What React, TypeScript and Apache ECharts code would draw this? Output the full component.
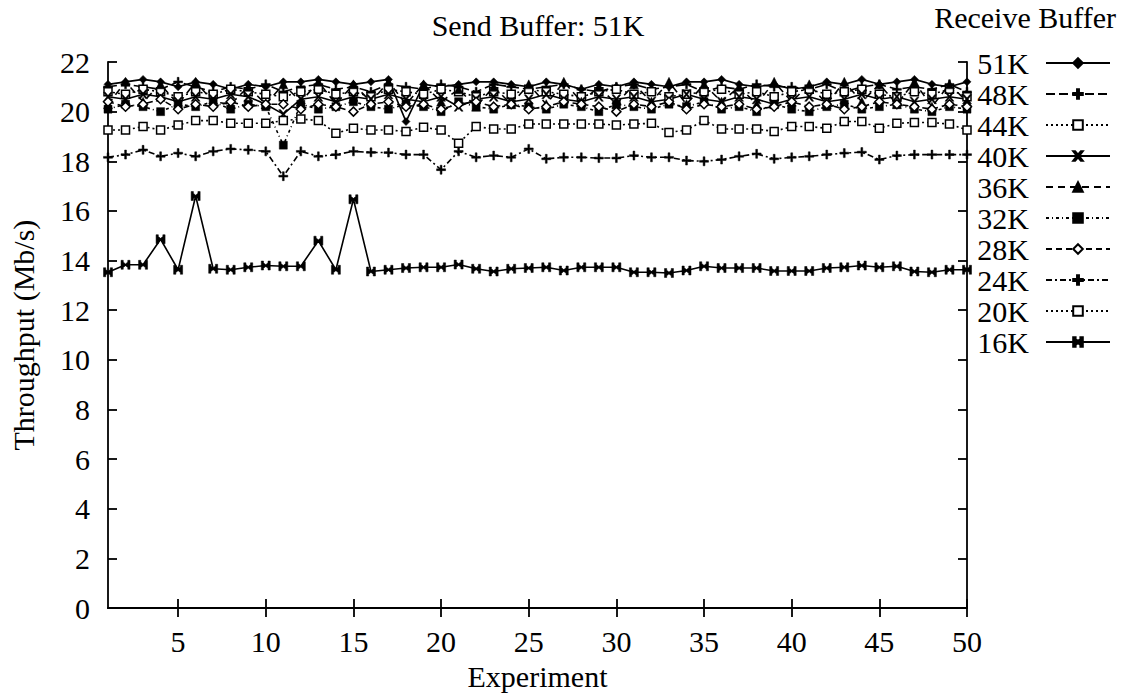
import React, { useEffect, useRef } from "react";
import * as echarts from "echarts";

const experiments = Array.from({ length: 50 }, (_, i) => i + 1);
const xTickValues = [5, 10, 15, 20, 25, 30, 35, 40, 45, 50];

const rb51 = [21.1, 21.2, 21.3, 21.2, 21.0, 21.2, 21.1, 20.9, 21.1, 21.0, 21.2, 21.2, 21.3, 21.2, 21.1, 21.2, 21.3, 19.6, 21.1, 21.0, 21.1, 21.2, 21.2, 21.1, 21.0, 21.2, 21.1, 20.9, 21.1, 21.0, 21.2, 21.1, 21.0, 21.2, 21.2, 21.3, 21.1, 21.0, 21.1, 20.9, 21.0, 21.2, 21.1, 21.3, 21.1, 21.2, 21.3, 21.1, 21.0, 21.2];
const rb48 = [21.0, 21.1, 21.0, 20.9, 21.2, 21.0, 20.8, 21.0, 20.9, 21.1, 20.8, 21.0, 21.1, 20.9, 21.0, 20.8, 21.1, 21.0, 20.9, 21.1, 21.0, 20.8, 21.1, 21.0, 20.9, 21.0, 21.1, 20.9, 20.8, 21.0, 21.1, 20.9, 21.0, 21.1, 20.8, 21.0, 20.9, 21.1, 21.0, 21.0, 20.9, 21.1, 20.8, 21.0, 21.1, 20.9, 21.0, 20.9, 21.1, 20.8];
const rb44 = [20.8, 20.7, 20.9, 20.8, 20.6, 20.8, 20.7, 20.9, 20.8, 20.7, 20.6, 20.8, 20.9, 20.7, 20.8, 20.6, 20.9, 20.8, 20.7, 20.9, 20.8, 20.6, 20.8, 20.7, 20.9, 20.8, 20.7, 20.6, 20.8, 20.9, 20.7, 20.8, 20.6, 20.7, 20.8, 20.9, 20.7, 20.8, 20.6, 20.8, 20.9, 20.7, 20.8, 20.9, 20.7, 20.6, 20.8, 20.7, 20.9, 20.6];
const rb40 = [20.6, 20.5, 20.7, 20.6, 20.4, 20.6, 20.5, 20.7, 20.6, 20.3, 19.9, 20.5, 20.6, 20.4, 20.6, 20.5, 20.7, 20.5, 20.4, 20.6, 20.2, 20.5, 20.6, 20.4, 20.5, 20.7, 20.5, 20.4, 20.6, 20.5, 20.6, 20.4, 20.5, 20.7, 20.5, 20.4, 20.6, 20.5, 20.3, 20.5, 20.6, 20.4, 20.5, 20.7, 20.5, 20.6, 20.4, 20.5, 20.6, 20.5];
const rb36 = [20.3, 21.2, 20.4, 21.1, 20.3, 21.2, 20.4, 20.3, 21.0, 20.3, 21.1, 20.4, 21.2, 20.3, 21.1, 20.4, 21.2, 20.3, 21.1, 20.4, 20.9, 20.2, 21.0, 20.3, 21.1, 20.3, 21.2, 20.4, 21.0, 20.3, 21.1, 20.4, 21.2, 20.3, 21.1, 20.4, 21.0, 20.3, 21.2, 20.4, 21.1, 20.3, 21.2, 20.4, 21.1, 20.3, 21.2, 20.2, 21.1, 20.4];
const rb32 = [20.1, 20.3, 20.2, 20.0, 20.3, 20.2, 20.4, 20.1, 20.3, 20.2, 18.65, 20.3, 20.1, 20.2, 20.4, 20.2, 20.1, 20.3, 20.2, 20.0, 20.4, 20.2, 20.1, 20.3, 20.2, 20.1, 20.3, 20.2, 20.0, 20.3, 20.2, 20.1, 20.3, 20.2, 20.4, 20.1, 20.2, 20.0, 20.3, 20.1, 20.0, 20.2, 20.3, 20.1, 20.2, 20.3, 20.1, 20.0, 20.2, 20.1];
const rb28 = [20.4, 20.2, 20.3, 20.5, 20.1, 20.3, 20.2, 20.4, 20.2, 20.3, 20.3, 20.1, 20.3, 20.2, 20.0, 20.3, 20.4, 20.2, 20.3, 20.1, 20.3, 20.4, 20.2, 20.3, 20.1, 20.2, 20.4, 20.3, 20.2, 20.0, 20.3, 20.2, 20.4, 20.1, 20.3, 20.2, 20.3, 20.1, 20.2, 20.4, 20.2, 20.3, 20.1, 20.2, 20.4, 20.3, 20.2, 20.1, 20.3, 20.2];
const rb24 = [18.16, 18.27, 18.46, 18.2, 18.33, 18.2, 18.4, 18.5, 18.46, 18.4, 17.4, 18.4, 18.2, 18.27, 18.4, 18.36, 18.35, 18.27, 18.27, 17.66, 18.4, 18.16, 18.23, 18.16, 18.5, 18.1, 18.16, 18.16, 18.13, 18.13, 18.23, 18.16, 18.16, 18.03, 18.0, 18.07, 18.2, 18.3, 18.1, 18.16, 18.2, 18.27, 18.33, 18.37, 18.07, 18.23, 18.27, 18.27, 18.27, 18.27];
const rb20 = [19.26, 19.26, 19.4, 19.26, 19.46, 19.64, 19.64, 19.53, 19.53, 19.53, 19.64, 19.7, 19.64, 19.13, 19.33, 19.26, 19.26, 19.2, 19.37, 19.26, 18.73, 19.4, 19.3, 19.3, 19.5, 19.5, 19.5, 19.5, 19.5, 19.46, 19.5, 19.53, 19.16, 19.26, 19.64, 19.3, 19.3, 19.3, 19.2, 19.4, 19.4, 19.33, 19.6, 19.6, 19.33, 19.53, 19.56, 19.56, 19.5, 19.26];
const rb16 = [13.53, 13.83, 13.83, 14.86, 13.63, 16.6, 13.67, 13.63, 13.73, 13.8, 13.77, 13.77, 14.8, 13.63, 16.47, 13.56, 13.63, 13.7, 13.73, 13.73, 13.84, 13.67, 13.56, 13.67, 13.7, 13.73, 13.6, 13.73, 13.73, 13.73, 13.53, 13.53, 13.5, 13.6, 13.77, 13.7, 13.7, 13.7, 13.58, 13.58, 13.58, 13.7, 13.73, 13.8, 13.73, 13.77, 13.56, 13.53, 13.63, 13.63];

const FONT = "'Liberation Serif', 'DejaVu Serif', serif";
const FS = 30;
const PLUS = "path://M4,0H6V4H10V6H6V10H4V6H0V4H4Z";
const CROSS = "path://M0,0H2L5,3.6L8,0H10L6.2,5L10,10H8L5,6.4L2,10H0L3.8,5Z";
const BOWTIE = "path://M0,0H2.5V2L5,4L7.5,2V0H10V10H7.5V8L5,6L2.5,8V10H0Z";

type Spec = { name: string; data: number[]; dash: any; symbol: string; open?: boolean; size?: number };

const specs: Spec[] = [
  { name: "51K", data: rb51, dash: "solid", symbol: "diamond", size: 8 },
  { name: "48K", data: rb48, dash: [9, 4], symbol: PLUS, size: 9 },
  { name: "44K", data: rb44, dash: [2, 3], symbol: "rect", open: true, size: 8 },
  { name: "40K", data: rb40, dash: "solid", symbol: CROSS, size: 9 },
  { name: "36K", data: rb36, dash: [7, 5], symbol: "triangle", size: 9 },
  { name: "32K", data: rb32, dash: [3, 3, 1, 3], symbol: "rect", size: 8 },
  { name: "28K", data: rb28, dash: [6, 4], symbol: "diamond", open: true, size: 9 },
  { name: "24K", data: rb24, dash: [6, 3, 2, 3], symbol: PLUS, size: 9 },
  { name: "20K", data: rb20, dash: [2, 3], symbol: "rect", open: true, size: 8 },
  { name: "16K", data: rb16, dash: "solid", symbol: BOWTIE, size: 9 },
];

export default function App() {
  const ref = useRef<HTMLDivElement>(null);
  useEffect(() => {
    document.body.style.margin = "0";
    if (!ref.current) return;
    const chart = echarts.init(ref.current, undefined, { renderer: "svg" });
    const axisLine = { show: true, lineStyle: { color: "#000", width: 1.8 } };
    const tick = { show: true, inside: true, length: 9, lineStyle: { color: "#000", width: 1.8 } };
    const txt = { fontFamily: FONT, fontSize: FS, color: "#000" };
    chart.setOption({
      animation: false,
      backgroundColor: "#fff",
      textStyle: { fontFamily: FONT, color: "#000" },
      title: [
        { text: "Send Buffer: 51K", left: 533, top: 5, textAlign: "center", textStyle: { ...txt, fontWeight: "normal" } },
        { text: "Receive Buffer", right: 0, top: -3, textStyle: { ...txt, fontWeight: "normal" } },
      ],
      grid: { left: 103, right: 154, top: 62, bottom: 76 },
      legend: {
        orient: "vertical",
        right: 5,
        top: 43,
        align: "right",
        itemWidth: 64,
        itemHeight: 12,
        itemGap: 1,
        textStyle: { ...txt, padding: [0, 12, 0, 0] },
        data: specs.map((s) => s.name),
      },
      xAxis: [
        {
          type: "value",
          min: 1,
          max: 50,
          name: "Experiment",
          nameLocation: "middle",
          nameGap: 51,
          nameTextStyle: txt,
          axisLine,
          axisTick: { ...tick, customValues: xTickValues },
          axisLabel: { ...txt, margin: 18, customValues: xTickValues },
          splitLine: { show: false },
        },
        {
          type: "value",
          min: 1,
          max: 50,
          position: "top",
          axisLine,
          axisTick: { ...tick, customValues: xTickValues },
          axisLabel: { show: false, customValues: xTickValues },
          splitLine: { show: false },
        },
      ],
      yAxis: [
        {
          type: "value",
          min: 0,
          max: 22,
          interval: 2,
          name: "Throughput (Mb/s)",
          nameLocation: "middle",
          nameGap: 70,
          nameTextStyle: txt,
          axisLine,
          axisTick: tick,
          axisLabel: { ...txt, margin: 18 },
          splitLine: { show: false },
        },
        {
          type: "value",
          min: 0,
          max: 22,
          interval: 2,
          position: "right",
          axisLine,
          axisTick: tick,
          axisLabel: { show: false },
          splitLine: { show: false },
        },
      ],
      series: specs.map((s) => ({
        name: s.name,
        type: "line",
        xAxisIndex: 0,
        yAxisIndex: 0,
        data: experiments.map((x, i) => [x, s.data[i]]),
        symbol: s.symbol,
        symbolSize: s.size,
        showAllSymbol: true,
        lineStyle: { color: "#000", width: 1.6, type: s.dash },
        itemStyle: s.open
          ? { color: "#fff", borderColor: "#000", borderWidth: 1.5 }
          : { color: "#000", borderColor: "#000", borderWidth: 0.5 },
        emphasis: { disabled: true },
      })),
    });
    return () => chart.dispose();
  }, []);
  return <div ref={ref} style={{ width: 1121, height: 696 }} />;
}
